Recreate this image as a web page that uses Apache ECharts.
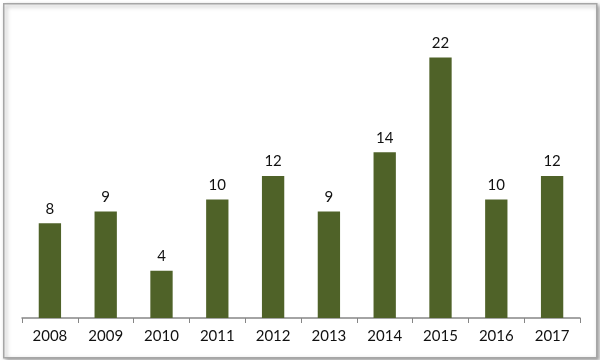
<!DOCTYPE html>
<html><head><meta charset="utf-8">
<script src="https://cdn.jsdelivr.net/npm/echarts@6/dist/echarts.min.js"></script>
<style>html,body{margin:0;padding:0;background:#fff}#c{width:600px;height:360px}</style>
</head><body><div id="c"></div>
<script>
const categories = ['2008','2009','2010','2011','2012','2013','2014','2015','2016','2017'];
const values = [8, 9, 4, 10, 12, 9, 14, 22, 10, 12];
const chart = echarts.init(document.getElementById('c'));
chart.setOption({
  animation: false,
  graphic: [{
    type: 'rect', left: 3, top: 3, z: -10,
    shape: { width: 593, height: 354 },
    style: { fill: '#fff', stroke: '#a6a6a6', lineWidth: 1.5, shadowBlur: 4, shadowColor: 'rgba(0,0,0,0.35)', shadowOffsetX: 2, shadowOffsetY: 2 }
  }],
  grid: { left: 22, right: 20, top: 22, bottom: 42 },
  xAxis: {
    type: 'category', data: categories,
    axisLine: { lineStyle: { color: '#868686', width: 1.5 } },
    axisTick: { show: true, length: 5, lineStyle: { color: '#868686' } },
    axisLabel: { color: '#111', fontFamily: 'Lato', fontSize: 15, margin: 11 }
  },
  yAxis: { type: 'value', min: 0, max: 25, show: false, splitLine: { show: false } },
  series: [{
    type: 'bar', data: values, barWidth: '40%',
    itemStyle: { color: '#4F6228' },
    label: { show: true, position: 'top', color: '#111', fontFamily: 'Lato', fontSize: 15, distance: 7 }
  }]
});
</script></body></html>
